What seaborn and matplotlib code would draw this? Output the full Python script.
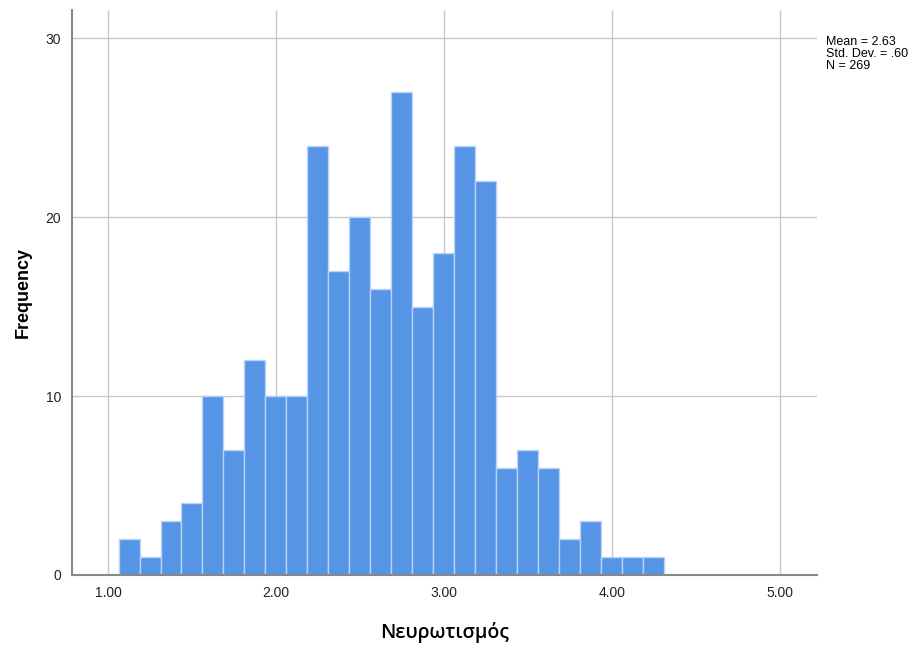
import numpy as np
import pandas as pd
import matplotlib
matplotlib.use("Agg")
import matplotlib.pyplot as plt
import seaborn as sns

# histogram counts read from the SPSS output, bins of width 0.125
bin_start = 1.0625
bin_width = 0.125
counts = [2, 1, 3, 4, 10, 7, 12, 10, 10, 24, 17, 20, 16,
          27, 15, 18, 24, 22, 6, 7, 6, 2, 3, 1, 1, 1]
x_ticks = [1, 2, 3, 4, 5]
y_ticks = [0, 10, 20, 30]
stats_text = "Mean = 2.63\nStd. Dev. = .60\nN = 269"

edges = bin_start + bin_width * np.arange(len(counts) + 1)
df = pd.DataFrame({"value": (edges[:-1] + edges[1:]) / 2, "count": counts})

sns.set_style("white")
plt.rcParams["font.family"] = ["Liberation Sans", "DejaVu Sans"]

fig = plt.figure(figsize=(9.24, 6.46), dpi=100)
ax = fig.add_axes([0.078, 0.110, 0.806, 0.875])

ax.set_axisbelow(True)
ax.grid(True, color="#c8c8c8", linewidth=1)
sns.histplot(data=df, x="value", weights="count", bins=edges.tolist(), ax=ax,
             color="#5694e6", alpha=1, edgecolor="#b9d3f5", linewidth=1)

ax.set_xlim(0.786, 5.22)
ax.set_ylim(0, 31.6)
ax.set_xticks(x_ticks)
ax.set_xticklabels([f"{t:.2f}" for t in x_ticks])
ax.set_yticks(y_ticks)
ax.tick_params(length=0, labelsize=10, colors="#222222", pad=8)

for side in ["top", "right"]:
    ax.spines[side].set_visible(False)
for side in ["left", "bottom"]:
    ax.spines[side].set_color("#888888")
    ax.spines[side].set_linewidth(1.5)

ax.set_xlabel("Νευρωτισμός", fontsize=14, family="Open Sans",
              fontweight="semibold", color="black", labelpad=16)
ax.set_ylabel("Frequency", fontsize=13, fontweight="bold", color="black",
              labelpad=10)

fig.text(0.894, 0.945, stats_text, fontsize=9, va="top", ha="left",
         linespacing=1.0, color="black")

fig.savefig("out.png", dpi=100)
